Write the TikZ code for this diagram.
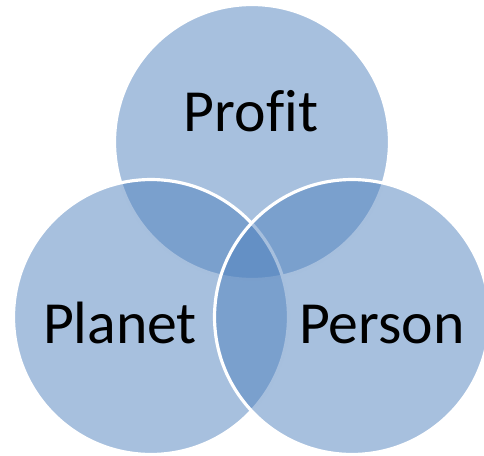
\documentclass[tikz,border=0pt]{standalone}
\usepackage{fontspec}
\setmainfont{Carlito}[Ligatures=NoCommon]
\usetikzlibrary{positioning}
\definecolor{vennblue}{HTML}{4F81BD}

\begin{document}
\begin{tikzpicture}[x=0.02cm,y=-0.02cm]
\tikzset{
  venn/.style={
    circle,
    minimum size=5.5cm,
    inner sep=0pt,
    fill=vennblue,
    fill opacity=0.5,
    draw=white,
    line width=1.8pt
  },
  lab/.style={
    font=\fontsize{34}{40}\selectfont,
    text=black,
    inner sep=0pt
  }
};

\useasboundingbox (0,0) rectangle (484,456);

 % circles, back to front
 \node[venn] (profit) at (252,142) {};
 \node[venn] (planet) at (151,317) {};
 \node[venn] (person) at (352,317) {};

 \node[lab,anchor=base] (tprofit) at (251,132) {Profit};
 \node[lab,anchor=base] (tplanet) at (120,343) {Planet};
 \node[lab,anchor=base] (tperson) at (382,343) {Person};
\end{tikzpicture}
\end{document}
